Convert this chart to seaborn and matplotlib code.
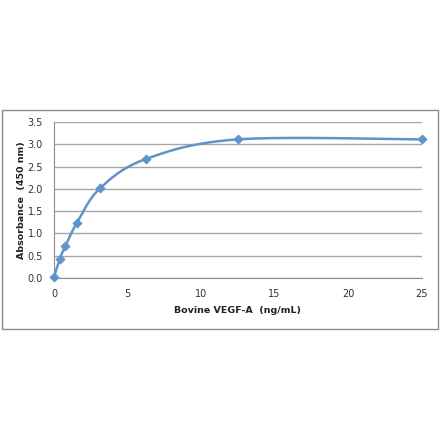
import numpy as np
import pandas as pd
import matplotlib
matplotlib.use("Agg")
import matplotlib.pyplot as plt
import seaborn as sns
from matplotlib.patches import Rectangle

concentration = [0, 0.39, 0.78, 1.5625, 3.125, 6.25, 12.5, 25]
absorbance = [0.03, 0.43, 0.72, 1.24, 2.01, 2.67, 3.11, 3.11]
x_ticks = [0, 5, 10, 15, 20, 25]
y_ticks = [0.0, 0.5, 1.0, 1.5, 2.0, 2.5, 3.0, 3.5]
x_label = "Bovine VEGF-A  (ng/mL)"
y_label = "Absorbance  (450 nm)"

df = pd.DataFrame({"conc": concentration, "abs": absorbance})

sns.set_style("white")
plt.rcParams['font.family'] = ['DejaVu Sans']

W, H = 440, 441
fig = plt.figure(figsize=(W / 100, H / 100), dpi=100)
fig.patch.set_facecolor("white")

# outer chart frame
fig.patches.append(Rectangle((1.5 / W, 1 - 329 / H), 436.5 / W, 219 / H,
                             transform=fig.transFigure, fill=False,
                             edgecolor="#8c8c8c", linewidth=1.0))

left, right, top, bottom = 54, 421.5, 122, 278
ax = fig.add_axes([left / W, 1 - bottom / H, (right - left) / W, (bottom - top) / H])

ax.set_xlim(0, 25)
ax.set_ylim(0, 3.5)

# Excel-style smoothed line (Catmull-Rom Bezier in pixel space)
sx = (right - left) / 25.0
sy = (bottom - top) / 3.5
P = np.column_stack([np.array(concentration) * sx, np.array(absorbance) * sy])
n = len(P)
curve = []
for i in range(n - 1):
    p0 = P[i - 1] if i > 0 else P[i]
    p1 = P[i]
    p2 = P[i + 1]
    p3 = P[i + 2] if i + 2 < n else P[i + 1]
    c1 = p1 + (p2 - p0) / 6.0
    c2 = p2 - (p3 - p1) / 6.0
    t = np.linspace(0, 1, 60)[:, None]
    seg = ((1 - t) ** 3) * p1 + 3 * ((1 - t) ** 2) * t * c1 + 3 * (1 - t) * t ** 2 * c2 + t ** 3 * p2
    curve.append(seg)
curve = np.vstack(curve)
ax.plot(curve[:, 0] / sx, curve[:, 1] / sy, color="#6093c9", linewidth=1.8,
        zorder=3, solid_capstyle="round")

sns.scatterplot(data=df, x="conc", y="abs", ax=ax, marker="D", s=22,
                color="#6093c9", edgecolor="#6093c9", linewidth=0.5, zorder=4,
                clip_on=False)

ax.set_xticks(x_ticks)
ax.set_yticks(y_ticks)
ax.set_xticklabels([str(v) for v in x_ticks])
ax.set_yticklabels([f"{v:.1f}" for v in y_ticks])
ax.tick_params(axis="both", labelsize=7, colors="#333333", length=3,
               width=0.8, direction="out", pad=5)
ax.tick_params(axis="both", color="#8c8c8c")
ax.yaxis.grid(True, color="#a6a6a6", linewidth=1.0)
ax.xaxis.grid(False)
ax.set_axisbelow(True)
for s in ["top", "right"]:
    ax.spines[s].set_visible(False)
for s in ["left", "bottom"]:
    ax.spines[s].set_color("#8c8c8c")
    ax.spines[s].set_linewidth(0.8)

ax.set_xlabel(x_label, fontsize=6.8, fontweight="bold", color="#222222", labelpad=5)
ax.set_ylabel(y_label, fontsize=6.8, fontweight="bold", color="#222222", labelpad=1)

fig.savefig("out.png", dpi=100, facecolor="white")
